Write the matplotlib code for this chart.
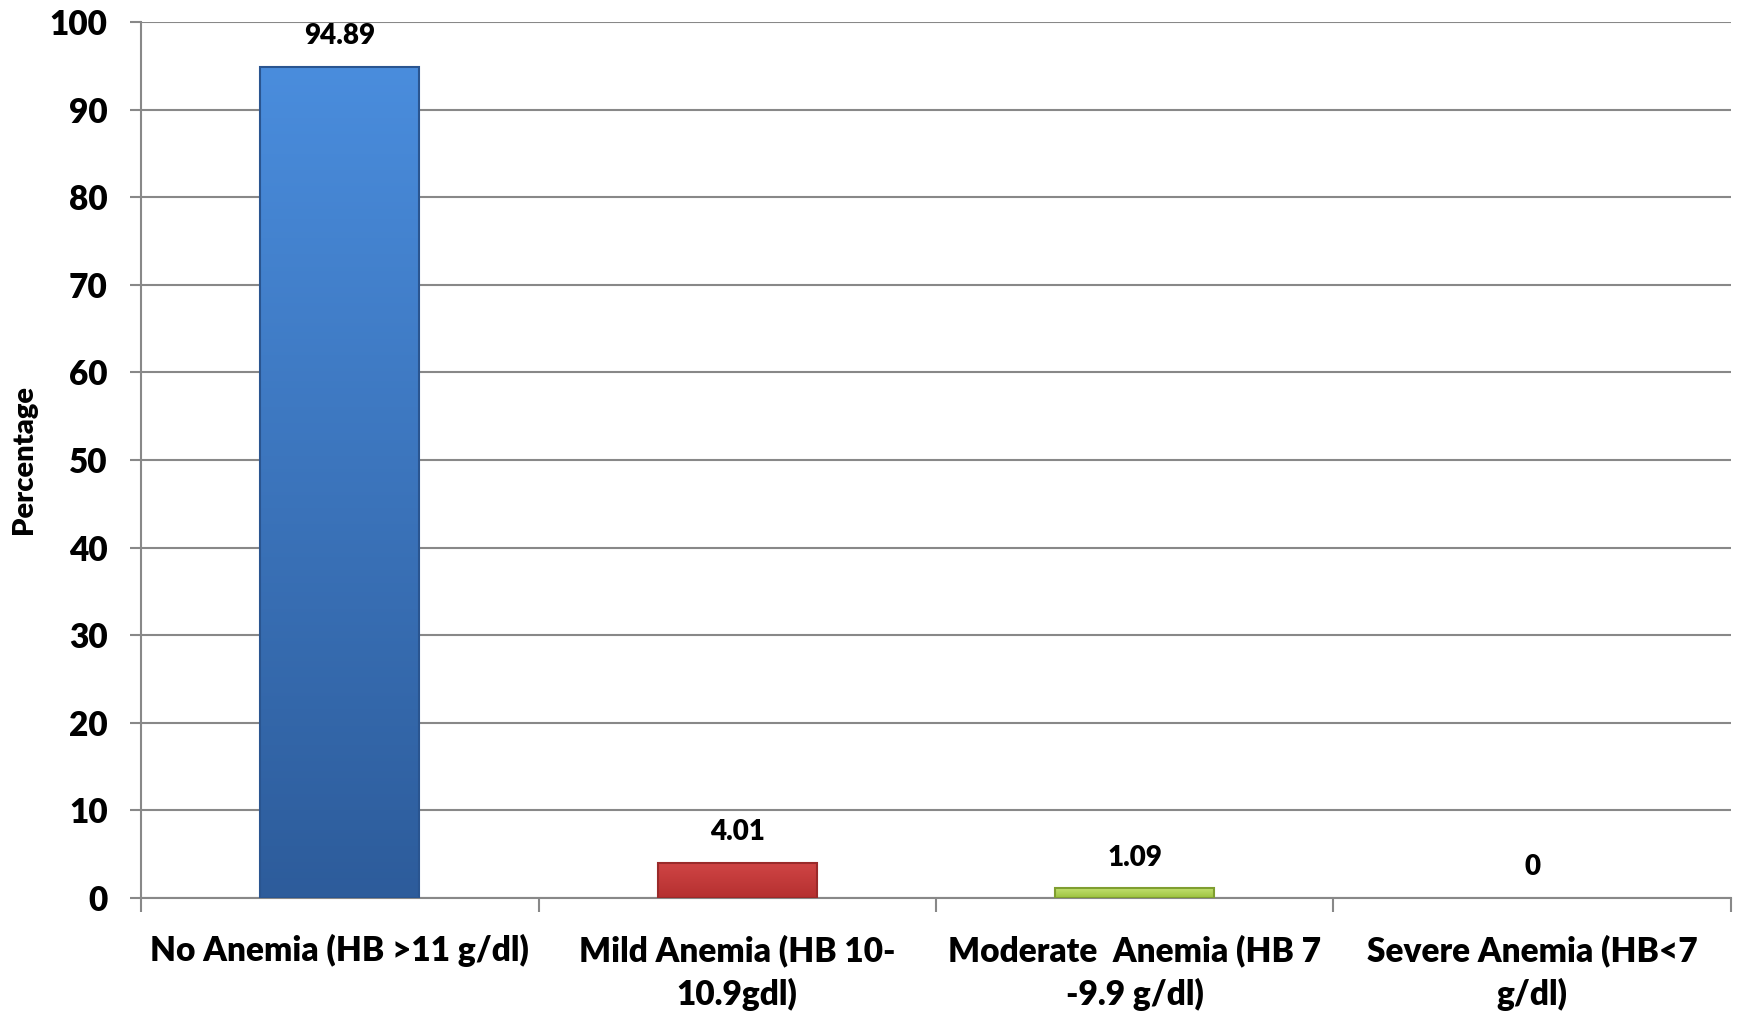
import numpy as np
import matplotlib
matplotlib.use("Agg")
import matplotlib.pyplot as plt
from matplotlib.colors import LinearSegmentedColormap

# Data
categories = ["No Anemia (HB >11 g/dl)", "Mild Anemia (HB 10-\n10.9gdl)",
              "Moderate  Anemia (HB 7\n-9.9 g/dl)", "Severe Anemia (HB<7\ng/dl)"]
values = [94.89, 4.01, 1.09, 0]
labels = ["94.89", "4.01", "1.09", "0"]
# top / bottom colour of each bar gradient
top_cols = ["#4a8ddd", "#d04545", "#c2e070", "#cccccc"]
bot_cols = ["#2d5c9b", "#b53030", "#9cc23e", "#aaaaaa"]
edge_cols = ["#2a5590", "#9a2a2a", "#7f9e30", "#999999"]

W = 'heavy'
plt.rcParams['font.family'] = ['Lato', 'DejaVu Sans']
plt.rcParams['font.weight'] = W

fig = plt.figure(figsize=(17.37, 10.13), dpi=100)
ax = fig.add_axes([0.0812, 0.1135, 0.9153, 0.8648])

x = np.arange(len(categories))
bars = ax.bar(x, values, width=0.4, color='none', edgecolor='none', zorder=3)

grad = np.linspace(1, 0, 256).reshape(-1, 1)
for i, b in enumerate(bars):
    if values[i] <= 0:
        continue
    cmap = LinearSegmentedColormap.from_list("g%d" % i, [bot_cols[i], top_cols[i]])
    x0 = b.get_x()
    x1 = x0 + b.get_width()
    im = ax.imshow(grad, extent=[x0, x1, 0, values[i]], aspect='auto',
                   cmap=cmap, zorder=3, origin='upper')
    im.set_clip_path(b)
    ax.add_patch(plt.Rectangle((x0, 0), b.get_width(), values[i], fill=False,
                               edgecolor=edge_cols[i], lw=1.5, zorder=4))

for i, v in enumerate(values):
    ax.annotate(labels[i], (x[i], v), xytext=(0, 22), textcoords='offset points',
                ha='center', va='center', fontsize=20, fontweight=W)

ax.set_xlim(-0.5, 3.5)
ax.set_ylim(0, 100)
ax.set_yticks(np.arange(0, 101, 10))
ax.yaxis.grid(True, color='#888888', lw=1.5, zorder=0)
ax.set_axisbelow(True)

ax.set_xticks(x)
ax.set_xticklabels(categories, fontsize=24, fontweight=W, linespacing=1.4)
ax.set_xticks(np.arange(-0.5, 4.0, 1.0), minor=True)
ax.tick_params(axis='x', which='major', length=0, pad=26)
ax.tick_params(axis='x', which='minor', length=10, width=1.5, color='#888888')
ax.tick_params(axis='y', length=8, width=1.5, color='#888888', labelsize=24, pad=16)
for t in ax.get_yticklabels():
    t.set_fontweight(W)

for s in ['top', 'right']:
    ax.spines[s].set_visible(False)
ax.spines['left'].set_color('#888888')
ax.spines['left'].set_linewidth(1.5)
ax.spines['bottom'].set_color('#888888')
ax.spines['bottom'].set_linewidth(1.5)

fig.text(0.014, 0.546, "Percentage", rotation=90, ha='center', va='center',
         fontsize=21, fontweight=W)

fig.savefig("out.png", dpi=100)
